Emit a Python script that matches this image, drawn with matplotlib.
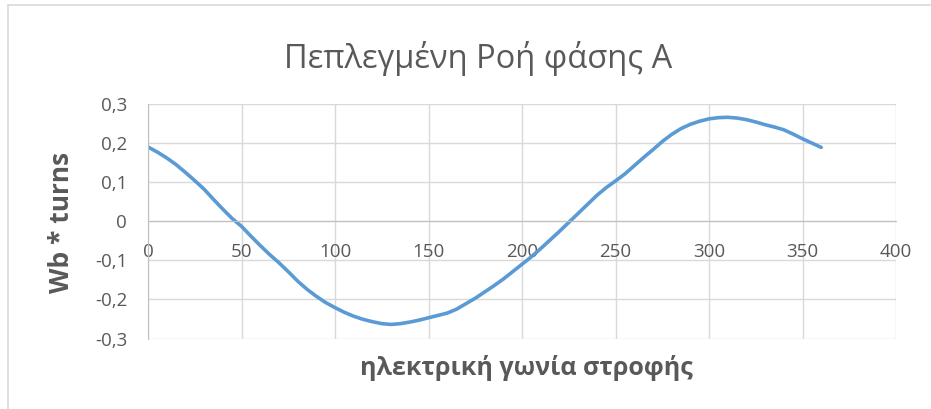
import matplotlib
matplotlib.use("Agg")
import matplotlib.pyplot as plt
from matplotlib.ticker import FuncFormatter, MultipleLocator
from matplotlib.patches import Rectangle

# Flux linkage of phase A versus electrical rotor angle (5 degree steps)
angle_deg = list(range(0, 365, 5))
flux_linkage = [
    0.190, 0.177, 0.162, 0.145, 0.125, 0.104, 0.082, 0.056, 0.031, 0.007,
    -0.013, -0.038, -0.062, -0.085, -0.106, -0.129, -0.153, -0.174, -0.192,
    -0.208, -0.221, -0.233, -0.243, -0.251, -0.257, -0.262, -0.264, -0.262,
    -0.258, -0.253, -0.247, -0.241, -0.235, -0.225, -0.211, -0.197, -0.181,
    -0.165, -0.148, -0.129, -0.110, -0.091, -0.070, -0.048, -0.026, -0.003,
    0.020, 0.043, 0.066, 0.086, 0.103, 0.121, 0.142, 0.163, 0.183, 0.204,
    0.222, 0.237, 0.248, 0.256, 0.262, 0.265, 0.266, 0.264, 0.260, 0.254,
    0.247, 0.241, 0.234, 0.223, 0.211, 0.200, 0.189,
]

title_text = "Πεπλεγμένη Ροή φάσης Α"
x_label = "ηλεκτρική γωνία στροφής"
y_label = "Wb * turns"

TEXT = "#595959"
GRID = "#D9D9D9"
LINE = "#5B9BD5"
FONT = ["Open Sans", "DejaVu Sans"]

W, H = 931, 409
fig = plt.figure(figsize=(W / 100, H / 100), dpi=100)

# outer chart frame (only top and left edges fall inside the image)
fig.patches.append(Rectangle((8 / W, -0.1), 1.2, (1 - 5 / H) + 0.1,
                             transform=fig.transFigure, fill=False,
                             edgecolor=GRID, linewidth=1.2))

left, right, top, bottom = 148, 896, 104, 338.5
ax = fig.add_axes([left / W, 1 - bottom / H, (right - left) / W, (bottom - top) / H])

ax.plot(angle_deg, flux_linkage, color=LINE, linewidth=2.6,
        solid_capstyle="round", solid_joinstyle="round")

ax.set_xlim(0, 400)
ax.set_ylim(-0.3, 0.3)
ax.xaxis.set_major_locator(MultipleLocator(50))
ax.yaxis.set_major_locator(MultipleLocator(0.1))


def comma_fmt(v, pos):
    if abs(v) < 1e-9:
        return "0"
    return f"{v:.1f}".replace(".", ",")


ax.yaxis.set_major_formatter(FuncFormatter(comma_fmt))
ax.xaxis.set_major_formatter(FuncFormatter(lambda v, p: f"{v:.0f}"))

ax.grid(True, color=GRID, linewidth=1.0)
ax.set_axisbelow(True)

for side in ("top", "right"):
    ax.spines[side].set_visible(False)
ax.spines["left"].set_color("#BFBFBF")
ax.spines["bottom"].set_color("#BFBFBF")
ax.spines["bottom"].set_position(("data", 0))

ax.tick_params(axis="both", length=0, labelsize=13.5, labelcolor=TEXT)
ax.tick_params(axis="x", pad=16)
ax.tick_params(axis="y", pad=15)
for lbl in ax.get_xticklabels() + ax.get_yticklabels():
    lbl.set_family(FONT)

fig.text(478 / W, 1 - 58 / H, title_text, ha="center", va="center",
         fontsize=23.5, color=TEXT, family=FONT)
fig.text(526 / W, 1 - 368 / H, x_label, ha="center", va="center",
         fontsize=18, fontweight="bold", color=TEXT, family=FONT)
fig.text(62 / W, 1 - 222 / H, y_label, ha="center", va="center",
         rotation=90, fontsize=19, fontweight="bold", color=TEXT, family=FONT)

fig.savefig("out.png", dpi=100, facecolor="white")
